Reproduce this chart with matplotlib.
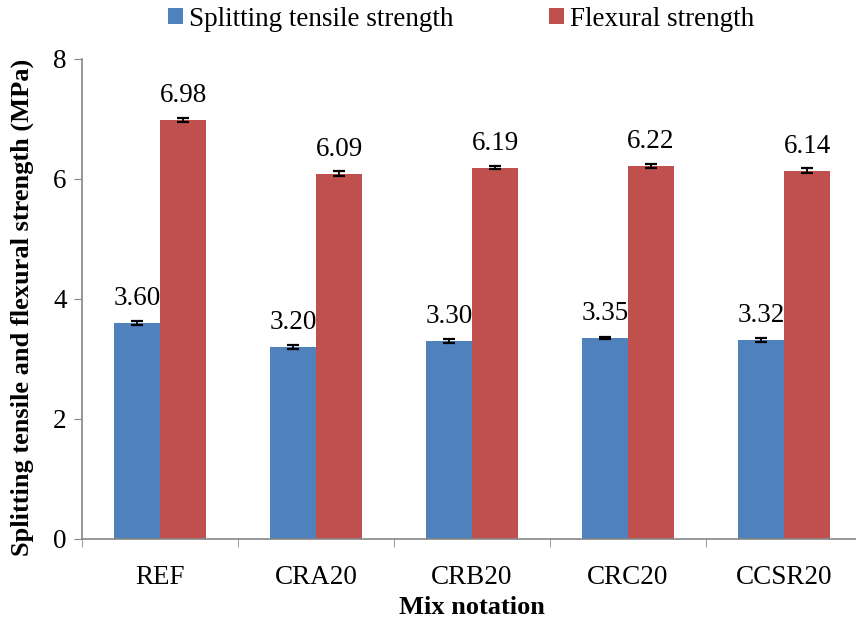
import matplotlib
matplotlib.use("Agg")
import matplotlib.pyplot as plt
import numpy as np

categories = ["REF", "CRA20", "CRB20", "CRC20", "CCSR20"]
splitting = [3.60, 3.20, 3.30, 3.35, 3.32]
flexural = [6.98, 6.09, 6.19, 6.22, 6.14]
splitting_err = [0.04, 0.03, 0.03, 0.02, 0.03]
flexural_err = [0.03, 0.04, 0.02, 0.03, 0.04]
yticks = [0, 2, 4, 6, 8]

plt.rcParams['font.family'] = ['Liberation Serif', 'DejaVu Serif']

W, H = 856, 625
fig = plt.figure(figsize=(W/100, H/100), dpi=100)
ax = fig.add_axes([82/W, (H-539)/H, 780/W, 480/H])

x = np.arange(len(categories))
bw = 0.295
blue = "#4F81BD"
red = "#C0504D"
ax.bar(x - bw/2, splitting, bw, color=blue, label="Splitting tensile strength", zorder=2)
ax.bar(x + bw/2, flexural, bw, color=red, label="Flexural strength", zorder=2)
ekw = dict(fmt='none', ecolor='black', elinewidth=1.3, capsize=4.5, capthick=1.6, zorder=3)
ax.errorbar(x - bw/2, splitting, yerr=splitting_err, **ekw)
ax.errorbar(x + bw/2, flexural, yerr=flexural_err, **ekw)

fs = 19.5
for xi, v in zip(x - bw/2, splitting):
    ax.text(xi, v + 0.2, f"{v:.2f}", ha='center', va='bottom', fontsize=fs)
for xi, v in zip(x + bw/2, flexural):
    ax.text(xi, v + 0.2, f"{v:.2f}", ha='center', va='bottom', fontsize=fs)

ax.set_xlim(-0.5, len(categories) - 0.5)
ax.set_ylim(0, 8)
ax.set_yticks(yticks)
ax.set_xticks(np.arange(len(categories)+1) - 0.5, minor=True)
ax.set_xticks(x)
ax.set_xticklabels(categories)
ax.tick_params(axis='x', which='major', length=0, pad=19, labelsize=fs)
ax.tick_params(axis='x', which='minor', length=6, color='#868686', direction='out')
ax.tick_params(axis='y', length=6, color='#868686', labelsize=fs, pad=5)
for s in ['top', 'right']:
    ax.spines[s].set_visible(False)
for s in ['left', 'bottom']:
    ax.spines[s].set_color('#868686')
    ax.spines[s].set_linewidth(1.2)

ax.set_xlabel("Mix notation", fontsize=19, fontweight='bold', va='center')
ax.xaxis.set_label_coords((472-82)/780, (539-607)/480)
ax.set_ylabel("Splitting tensile and flexural strength (MPa)", fontsize=19, fontweight='bold', va='center')
ax.yaxis.set_label_coords((22-82)/780, (539-307)/480)

fig.legend(loc='center', bbox_to_anchor=(461/W, 1 - 19/H), ncol=2, frameon=False,
           fontsize=19.5, handlelength=0.55, handleheight=0.55, handletextpad=0.2, columnspacing=3.55)

fig.savefig("out.png", dpi=100)
